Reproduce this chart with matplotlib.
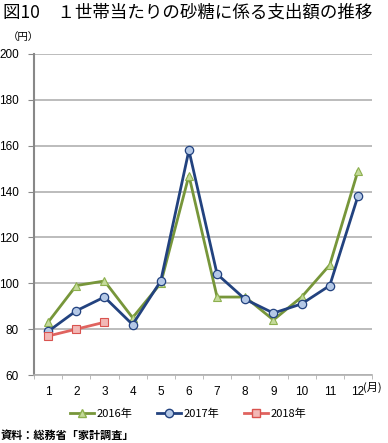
import matplotlib
matplotlib.use("Agg")
import matplotlib.pyplot as plt
from matplotlib.lines import Line2D

plt.rcParams['font.family'] = ['Liberation Sans', 'Noto Sans CJK JP']
JP = ['Noto Sans CJK JP', 'DejaVu Sans']

months = list(range(1, 13))
sales_2016 = [83, 99, 101, 85, 100, 147, 94, 94, 84, 94, 108, 149]
sales_2017 = [79, 88, 94, 82, 101, 158, 104, 93, 87, 91, 99, 138]
months_2018 = [1, 2, 3]
sales_2018 = [77, 80, 83]
yticks = [60, 80, 100, 120, 140, 160, 180, 200]

fig = plt.figure(figsize=(3.88, 4.43), dpi=100)
ax = fig.add_axes([34/388, 1 - 375/443, 338/388, 321/443])

ax.plot(months, sales_2016, color="#77963A", lw=2, marker="^", ms=6,
        mfc="#C4DA9A", mec="#8DB04E", mew=0.8, label="2016年", zorder=3)
ax.plot(months, sales_2017, color="#22427F", lw=2, marker="o", ms=6,
        mfc="#B4C8E6", mec="#22427F", mew=0.9, label="2017年", zorder=4)
ax.plot(months_2018, sales_2018, color="#E0635F", lw=2, marker="s", ms=5.5,
        mfc="#F2B8B6", mec="#D9534F", mew=0.8, label="2018年", zorder=5)

ax.set_xlim(0.5, 12.5)
ax.set_ylim(60, 200)
ax.set_yticks(yticks)
ax.set_xticks(months)
ax.set_xticklabels([str(m) for m in months])
ax.set_xticks([m + 0.5 for m in range(0, 13)], minor=True)
ax.grid(axis="y", color="#B0B0B0", lw=1.2)
ax.set_axisbelow(True)

for side in ["top", "right"]:
    ax.spines[side].set_visible(False)
ax.spines["left"].set_color("#888888")
ax.spines["left"].set_linewidth(1.5)
ax.spines["bottom"].set_color("#B0B0B0")
ax.spines["bottom"].set_linewidth(1.2)

ax.tick_params(axis="y", length=4, color="#888888", labelsize=8.5, pad=7)
ax.tick_params(axis="x", which="major", length=0, labelsize=8.5, pad=8)
ax.tick_params(axis="x", which="minor", length=3, color="#B0B0B0")

fig.text(3/388, 1 - 13/443, "図10　１世帯当たりの砂糖に係る支出額の推移",
         fontsize=12.6, va="center", ha="left", family=JP)
fig.text(8/388, 1 - 37/443, "（円）", fontsize=7.5, va="center", ha="left", family=JP)
fig.text(363/388, 1 - 387/443, "(月)", fontsize=8, va="center", ha="left", family=JP)

handles = [
    Line2D([], [], color="#77963A", lw=2, marker="^", ms=6, mfc="#C4DA9A", mec="#8DB04E"),
    Line2D([], [], color="#22427F", lw=2, marker="o", ms=6, mfc="#B4C8E6", mec="#22427F"),
    Line2D([], [], color="#E0635F", lw=2, marker="s", ms=5.5, mfc="#F2B8B6", mec="#D9534F"),
]
fig.legend(handles, ["2016年", "2017年", "2018年"], loc="center",
           bbox_to_anchor=(0.485, 1 - 414/443), ncol=3, frameon=False,
           handlelength=2.2, handletextpad=0.2, columnspacing=2.2,
           prop={"family": JP, "size": 8})

fig.text(1/388, 1 - 435/443, "資料：総務省「家計調査」", fontsize=8,
         va="center", ha="left", fontweight="bold", family=JP)

fig.savefig("out.png", dpi=100)
